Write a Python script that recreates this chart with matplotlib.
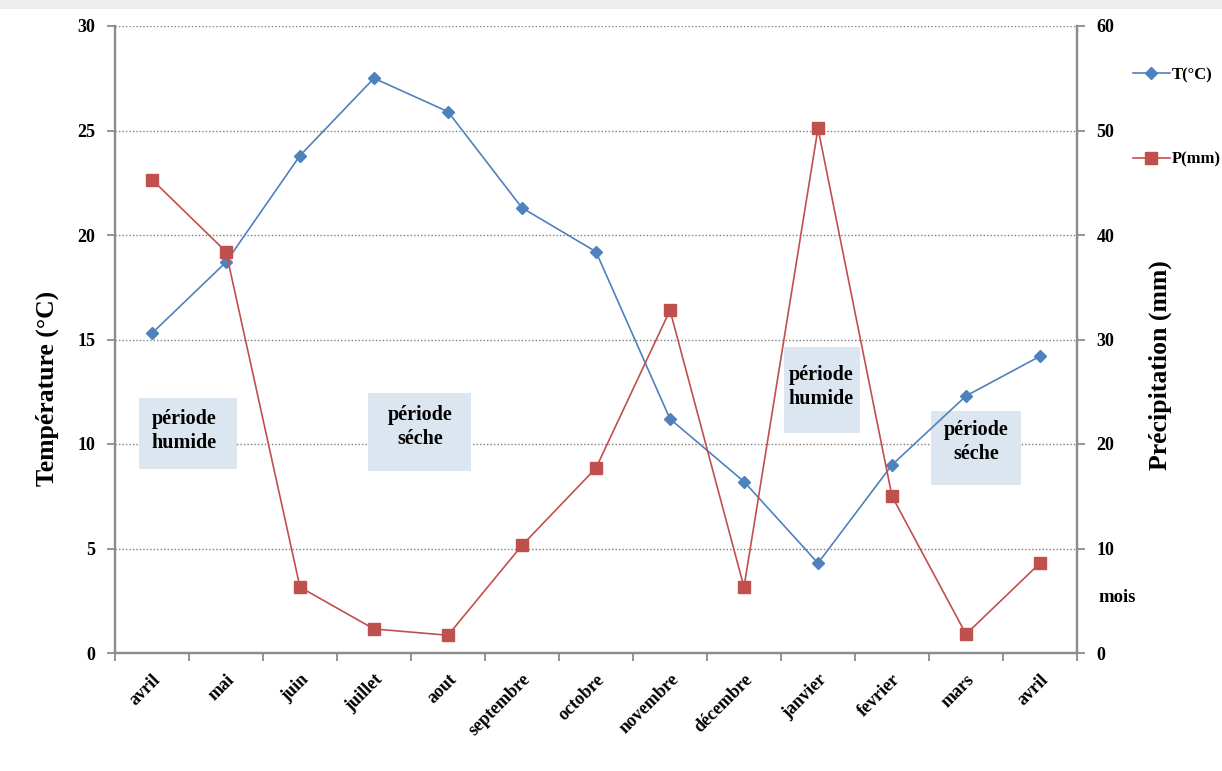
import matplotlib
matplotlib.use("Agg")
import matplotlib.pyplot as plt
from matplotlib.patches import Rectangle
from matplotlib.lines import Line2D

months = ["avril", "mai", "juin", "juillet", "aout", "septembre", "octobre",
          "novembre", "décembre", "janvier", "fevrier", "mars", "avril"]
temp_c = [15.3, 18.7, 23.8, 27.5, 25.9, 21.3, 19.2, 11.2, 8.2, 4.3, 9.0, 12.3, 14.2]
precip_mm = [45.3, 38.4, 6.3, 2.3, 1.7, 10.3, 17.7, 32.8, 6.3, 50.2, 15.0, 1.8, 8.6]
temp_ticks = [0, 5, 10, 15, 20, 25, 30]
precip_ticks = [0, 10, 20, 30, 40, 50, 60]

plt.rcParams['font.family'] = ['Liberation Serif', 'DejaVu Serif']
plt.rcParams['font.weight'] = 'bold'

BLUE = "#4F81BD"
RED = "#C0504D"
AXC = "#8c8c8c"

fig = plt.figure(figsize=(12.22, 7.71), dpi=100)
fig.patch.set_facecolor("white")
# faint top band
fig.patches.append(Rectangle((0, 1 - 9 / 771), 1, 9 / 771, transform=fig.transFigure,
                             facecolor="#eeeeee", edgecolor="none", zorder=0))

ax = fig.add_axes([115 / 1222, 1 - 653 / 771, (1077 - 115) / 1222, (653 - 26) / 771])
ax2 = ax.twinx()

x = list(range(len(months)))
ax.plot(x, temp_c, color=BLUE, lw=1.2, marker="D", ms=6.5, zorder=5)
ax2.plot(x, precip_mm, color=RED, lw=1.2, marker="s", ms=9, zorder=5)

ax.set_xlim(-0.5, len(months) - 0.5)
ax.set_ylim(0, 30)
ax2.set_ylim(0, 60)
ax.set_yticks(temp_ticks)
ax2.set_yticks(precip_ticks)
ax.set_xticks(x)
ax.set_xticklabels(months, rotation=45, ha="right", rotation_mode="anchor",
                   fontsize=13, fontweight="bold")
ax.set_xticks([i - 0.5 for i in range(len(months) + 1)], minor=True)
ax.tick_params(axis="x", which="major", length=0, pad=13)
ax.tick_params(axis="x", which="minor", length=6, color=AXC, width=1.3)
ax.tick_params(axis="y", length=6, color=AXC, width=1.3, labelsize=13, pad=8)
ax2.tick_params(axis="y", length=6, color=AXC, width=1.3, labelsize=13, pad=8)
for lab in ax.get_yticklabels() + ax2.get_yticklabels():
    lab.set_fontweight("bold")

ax.yaxis.grid(True, linestyle=(0, (1, 1.5)), color="#7f7f7f", lw=1.0)
ax.set_axisbelow(True)
for a in (ax, ax2):
    a.spines["top"].set_visible(False)
    for s in ("left", "right", "bottom"):
        a.spines[s].set_color(AXC)
        a.spines[s].set_linewidth(1.6)
ax2.set_zorder(ax.get_zorder() + 1)
ax2.patch.set_visible(False)

fig.text(47 / 1222, 1 - 388 / 771, "Température (°C)", rotation=90,
         ha="center", va="center", fontsize=18.5, fontweight="bold")
fig.text(1160 / 1222, 1 - 365 / 771, "Précipitation (mm)", rotation=90,
         ha="center", va="center", fontsize=18.5, fontweight="bold")
fig.text(1117 / 1222, 1 - 598 / 771, "mois", ha="center", va="center",
         fontsize=13.5, fontweight="bold")

# annotation boxes (pixel geometry -> axes fraction)
def px_box(x0, y0, x1, y1, text, tx=None, ty=None):
    W, H = 962.0, 627.0
    ax0 = (x0 - 115) / W
    ax1 = (x1 - 115) / W
    ay0 = (653 - y1) / H
    ay1 = (653 - y0) / H
    ax.add_patch(Rectangle((ax0, ay0), ax1 - ax0, ay1 - ay0, transform=ax.transAxes,
                           facecolor="#dce6f1", edgecolor="none", zorder=1))
    cx = (ax0 + ax1) / 2 if tx is None else (tx - 115) / W
    cy = (ay0 + ay1) / 2 if ty is None else (653 - ty) / H
    ax.text(cx, cy, text, transform=ax.transAxes,
            ha="center", va="center", fontsize=14.5, fontweight="bold",
            linespacing=1.25, zorder=2)

px_box(139, 398, 237, 469, "période\nhumide", tx=184, ty=431)
px_box(368, 393, 471, 471, "période\nséche", tx=420, ty=427)
px_box(784, 347, 860, 433, "période\nhumide", tx=821, ty=387)
px_box(931, 411, 1021, 485, "période\nséche", tx=976, ty=442)

# legend outside right
h1 = Line2D([], [], color=BLUE, lw=1.2, marker="D", ms=6)
h2 = Line2D([], [], color=RED, lw=1.2, marker="s", ms=8)
leg = fig.legend([h1, h2], ["T(°C)", "P(mm)"], loc="upper left",
                 bbox_to_anchor=(1133 / 1222, 1 - 67 / 771), frameon=False,
                 fontsize=12, handlelength=2.2, handletextpad=0.1,
                 labelspacing=4.1, borderaxespad=0, borderpad=0)
for t in leg.get_texts():
    t.set_fontweight("bold")

fig.savefig("out.png", dpi=100)
